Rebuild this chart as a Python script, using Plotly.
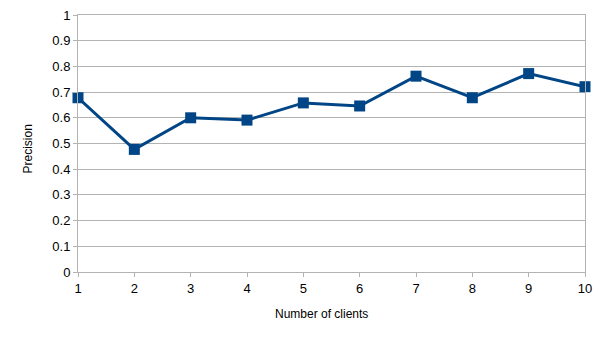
import plotly.graph_objs as go

clients = [1, 2, 3, 4, 5, 6, 7, 8, 9, 10]
precision = [0.678, 0.477, 0.600, 0.591, 0.658, 0.646, 0.762, 0.678, 0.772, 0.721]
y_ticks = [0, 0.1, 0.2, 0.3, 0.4, 0.5, 0.6, 0.7, 0.8, 0.9, 1]
y_labels = ['0', '0.1', '0.2', '0.3', '0.4', '0.5', '0.6', '0.7', '0.8', '0.9', '1']

fig = go.Figure()
fig.add_trace(go.Scatter(
    x=clients, y=precision, mode='lines+markers',
    line=dict(color='#004586', width=3),
    marker=dict(symbol='square', size=11, color='#004586'),
    cliponaxis=False, showlegend=False,
))

axis_common = dict(
    showline=True, linecolor='#b3b3b3', linewidth=1, mirror=True,
    ticks='outside', ticklen=4, tickcolor='#b3b3b3',
    tickfont=dict(family='Liberation Sans', size=13, color='#000000'),
    zeroline=False, automargin=False,
)

fig.update_layout(
    width=604, height=340,
    margin=dict(l=78, r=19, t=15, b=68),
    paper_bgcolor='white', plot_bgcolor='white',
    font=dict(family='Liberation Sans', size=12, color='#000000'),
    xaxis=dict(range=[1, 10], tickvals=clients, showgrid=False, **axis_common),
    yaxis=dict(range=[0, 1], tickvals=y_ticks, ticktext=y_labels,
               showgrid=True, gridcolor='#b3b3b3', **axis_common),
)

# axis titles as annotations (they sit a bit off-centre in the original)
fig.add_annotation(text='Number of clients', xref='paper', yref='paper',
                   x=0.5, y=0, xanchor='center', yanchor='middle',
                   xshift=-10, yshift=-42, showarrow=False,
                   font=dict(size=12))
fig.add_annotation(text='Precision', xref='paper', yref='paper',
                   x=0, y=0.5, xanchor='center', yanchor='middle',
                   xshift=-51, yshift=-6, textangle=-90, showarrow=False,
                   font=dict(size=12))

# page has a default 8px body margin; remove it so the chart sits at 0,0
fig.write_html("out.html", config={'displayModeBar': False},
               post_script="document.body.style.margin='0';")
